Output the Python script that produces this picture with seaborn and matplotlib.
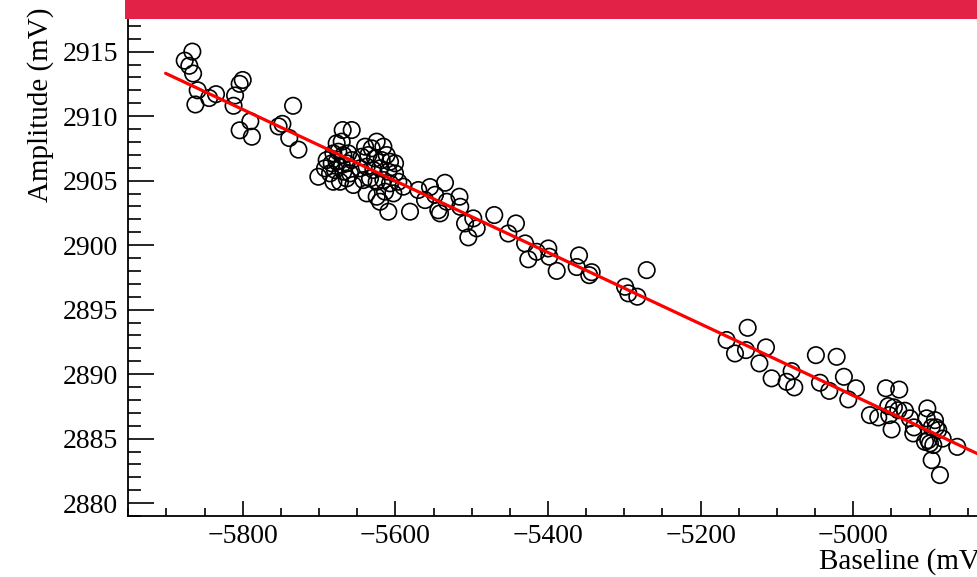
import numpy as np
import pandas as pd
import matplotlib
matplotlib.use("Agg")
import matplotlib.pyplot as plt
from matplotlib.patches import Rectangle
from matplotlib.ticker import MultipleLocator
import seaborn as sns

# Baseline (mV) and amplitude (mV) of each recorded pulse
baseline = [
    -5866, -5876, -5870, -5865, -5859, -5862, -5844, -5835, -5800, -5804,
    -5810, -5812, -5804, -5790, -5788, -5734, -5753, -5748, -5739, -5727,
    -5669.0, -5657.2, -5676.9, -5670.3, -5681.2, -5674.7, -5668.1, -5661.6,
    -5690.0, -5683.4, -5676.9, -5670.3, -5663.8, -5657.2, -5692.2, -5685.6,
    -5679.1, -5668.1, -5659.4, -5700.9, -5681.2, -5672.5, -5655.0, -5663.8,
    -5639.7, -5624.5, -5615.7, -5631.0, -5611.4, -5644.1, -5635.4, -5626.6,
    -5617.9, -5607.0, -5600.4, -5646.3, -5637.6, -5628.8, -5620.1, -5609.2,
    -5600.4, -5641.9, -5633.2, -5624.5, -5615.7, -5607.0, -5596.1, -5589.5,
    -5637.6, -5624.5, -5613.5, -5602.6, -5620.1, -5609.2,
    -5580.8, -5569.9, -5561.1,
    -5554.6, -5535.0, -5548.0, -5543.7, -5541.5, -5532.7, -5516.0, -5515.0,
    -5497.9, -5508.7, -5493.4, -5504.4, -5470.4, -5442.0, -5452.0, -5430.0,
    -5399.6, -5414.8, -5425.8, -5398.3, -5388.6, -5359.4, -5362.4, -5342.8,
    -5346.0, -5270.7, -5299.0, -5294.8, -5283.0,
    -5138.4, -5166.0, -5155.0, -5140.6, -5114.4, -5123.0, -5107.0, -5080.8,
    -5087.3, -5077.3, -5049.0, -5021.8, -5043.7, -5031.5, -5012.3, -5006.6,
    -4996.5,
    -4957.3, -4939.8, -4978.2, -4967.3, -4954.2, -4946.8, -4952.9, -4949.8,
    -4941.0, -4932.3, -4925.8, -4920.5, -4921.4, -4903.0, -4903.9, -4893.0,
    -4897.3, -4891.7, -4888.7, -4906.0, -4899.6, -4895.2, -4901.8, -4882.9,
    -4897.3, -4886.5, -4863.8,
]
amplitude = [
    2915.0, 2914.3, 2913.9, 2913.3, 2912.0, 2910.9, 2911.4, 2911.7, 2912.8, 2912.5,
    2911.6, 2910.8, 2908.9, 2909.6, 2908.4, 2910.8, 2909.2, 2909.4, 2908.3, 2907.4,
    2908.92, 2908.92, 2907.89, 2908.02, 2907.11, 2907.24, 2906.98, 2907.11,
    2906.59, 2906.34, 2906.46, 2906.21, 2906.34, 2906.59, 2905.95, 2905.56,
    2905.82, 2905.69, 2905.56, 2905.30, 2904.91, 2904.91, 2904.66, 2905.17,
    2907.63, 2908.02, 2907.63, 2907.50, 2906.98, 2906.85, 2906.98, 2906.72,
    2906.59, 2906.46, 2906.34, 2905.95, 2906.08, 2905.82, 2905.95, 2905.69,
    2905.56, 2905.04, 2905.17, 2904.91, 2905.04, 2904.79, 2904.91, 2904.53,
    2904.01, 2903.75, 2904.14, 2904.01, 2903.36, 2902.59,
    2902.59, 2904.27, 2903.49,
    2904.50, 2904.83, 2903.90, 2902.70, 2902.46, 2903.36, 2903.75, 2902.97,
    2902.07, 2901.68, 2901.30, 2900.60, 2902.33, 2901.68, 2900.90, 2900.13,
    2899.74, 2899.48, 2898.90, 2899.10, 2898.00, 2899.20, 2898.30, 2897.90,
    2897.67, 2898.06, 2896.77, 2896.26, 2896.00,
    2893.59, 2892.64, 2891.60, 2891.86, 2892.07, 2890.83, 2889.67, 2890.23,
    2889.40, 2888.97, 2891.47, 2891.34, 2889.33, 2888.70, 2889.79, 2888.04,
    2888.90,
    2888.90, 2888.80, 2886.82, 2886.64, 2887.52, 2887.42, 2886.82, 2885.71,
    2887.20, 2887.16, 2886.57, 2885.87, 2885.40, 2887.34, 2886.57, 2886.43,
    2885.87, 2885.87, 2885.66, 2884.75, 2884.63, 2884.50, 2884.88, 2885.00,
    2883.33, 2882.17, 2884.36,
]

# Linear fit (pol1): amplitude = p0 + p1 * baseline, drawn over the fit range
p0 = 2749.74
p1 = -0.02772
fit_range = (-5901, -4800)

x_ticks = [-5800, -5600, -5400, -5200, -5000]
y_ticks = [2880, 2885, 2890, 2895, 2900, 2905, 2910, 2915]

df = pd.DataFrame({"Baseline": baseline, "Amplitude": amplitude})
fit_x = np.array(fit_range, dtype=float)
fit_df = pd.DataFrame({"Baseline": fit_x, "Amplitude": p0 + p1 * fit_x})

sns.set_theme(style="white")
plt.rcParams["font.family"] = ["Liberation Serif", "DejaVu Serif"]
plt.rcParams["axes.unicode_minus"] = True

fig = plt.figure(figsize=(9.78, 5.77), dpi=100)
W, H = 978, 577
ax = fig.add_axes([128 / W, 61 / H, 850 / W, 516 / H])

sns.scatterplot(data=df, x="Baseline", y="Amplitude", ax=ax, marker="o",
                s=140, facecolor="none", edgecolor="black", linewidth=1.2,
                zorder=2)
sns.lineplot(data=fit_df, x="Baseline", y="Amplitude", ax=ax, color="#ff0000",
             linewidth=2.3, zorder=3)

ax.set_xlim(-5950.3, -4836.6)
ax.set_ylim(2879.0, 2919.0)
ax.set_xticks(x_ticks)
ax.set_yticks(y_ticks)
ax.xaxis.set_minor_locator(MultipleLocator(50))
ax.yaxis.set_minor_locator(MultipleLocator(1))

for side in ("top", "right"):
    ax.spines[side].set_visible(False)
for side in ("left", "bottom"):
    ax.spines[side].set_linewidth(1.3)
    ax.spines[side].set_color("black")

ax.tick_params(axis="y", which="major", direction="in", length=18.7, width=1.2,
               labelsize=20, pad=7, colors="black")
ax.tick_params(axis="y", which="minor", direction="in", length=9.4, width=1.2,
               colors="black")
ax.tick_params(axis="x", which="major", direction="in", length=10.8, width=1.2,
               labelsize=20, pad=6, colors="black")
ax.tick_params(axis="x", which="minor", direction="in", length=5.8, width=1.2,
               colors="black")
ax.tick_params(left=True, bottom=True, top=False, right=False)
ax.tick_params(which="minor", left=True, bottom=True, top=False, right=False)

ax.set_xlabel("Baseline (mV)", fontsize=21, color="black")
ax.set_ylabel("Amplitude (mV)", fontsize=21, color="black")
ax.xaxis.set_label_coords(1.014, -0.062)
ax.xaxis.label.set_horizontalalignment("right")
ax.yaxis.set_label_coords(-0.103, 0.985)
ax.yaxis.label.set_horizontalalignment("right")
ax.yaxis.label.set_verticalalignment("center")

# Title banner across the top of the pad
fig.patches.append(Rectangle((125 / W, 1 - 18.7 / H), 1 - 125 / W, 18.7 / H,
                             transform=fig.transFigure, facecolor="#e32248",
                             edgecolor="none", zorder=10))

fig.savefig("out.png", dpi=100, facecolor="white")
